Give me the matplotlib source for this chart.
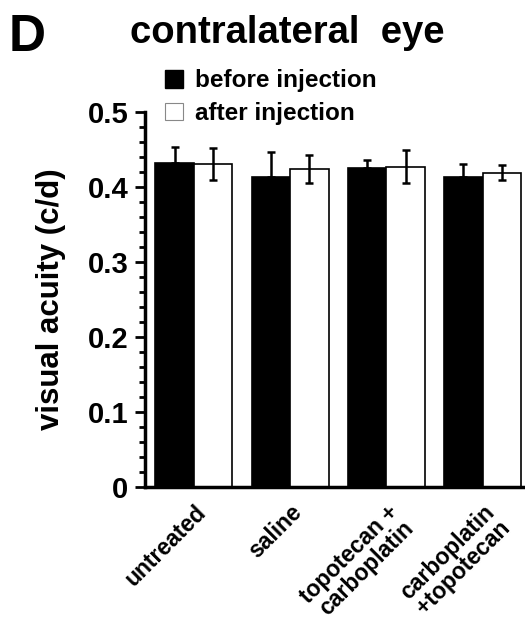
import numpy as np
import matplotlib.pyplot as plt
from matplotlib.patches import Patch
from matplotlib.ticker import MultipleLocator

plt.rcParams['font.family'] = ['Liberation Sans', 'DejaVu Sans']
plt.rcParams['font.weight'] = 'bold'

# visual acuity per group, mean and SEM
groups = ['untreated', 'saline', 'topotecan +\ncarboplatin', 'carboplatin\n+topotecan']
before = [0.432, 0.413, 0.425, 0.413]
before_err = [0.022, 0.034, 0.011, 0.018]
after = [0.431, 0.424, 0.427, 0.419]
after_err = [0.021, 0.019, 0.022, 0.010]

fig = plt.figure(figsize=(5.25, 6.26), dpi=100)
ax = fig.add_axes([0.276, 0.222, 0.724, 0.599])

x = np.arange(len(groups))
w = 0.4
err_kw = dict(ecolor='black', elinewidth=1.8, capsize=3, capthick=1.8)
ax.bar(x - w / 2, before, w, yerr=[np.zeros(4), before_err], color='black',
       edgecolor='black', linewidth=1.2, error_kw=err_kw)
ax.bar(x + w / 2, after, w, yerr=after_err, color='white',
       edgecolor='black', linewidth=1.2, error_kw=err_kw)

ax.set_xlim(-0.51, 3.44)
ax.set_ylim(0, 0.5)
ax.yaxis.set_major_locator(MultipleLocator(0.1))
ax.yaxis.set_minor_locator(MultipleLocator(0.02))
ax.set_yticks([0, 0.1, 0.2, 0.3, 0.4, 0.5])
ax.set_yticklabels(['0', '0.1', '0.2', '0.3', '0.4', '0.5'], fontsize=21, fontweight='bold')
ax.tick_params(axis='y', which='major', length=7, width=2, direction='out', pad=5)
ax.tick_params(axis='y', which='minor', length=4, width=2, direction='out')

ax.set_xticks(x)
ax.set_xticklabels(groups, rotation=45, ha='right', rotation_mode='anchor',
                   fontsize=16.5, fontweight='bold', linespacing=0.95)
ax.tick_params(axis='x', length=0, pad=10)

for s in ['top', 'right']:
    ax.spines[s].set_visible(False)
ax.spines['left'].set_linewidth(2.5)
ax.spines['bottom'].set_linewidth(2.5)

ax.set_ylabel('visual acuity (c/d)', fontsize=22.5, fontweight='bold')
ax.yaxis.set_label_coords(-0.208, 0.5)

handles = [Patch(facecolor='black', edgecolor='black'),
           Patch(facecolor='white', edgecolor='#888888', linewidth=0.8)]
fig.legend(handles, ['before injection', 'after injection'], loc='upper left',
           bbox_to_anchor=(0.295, 0.905), frameon=False, fontsize=17.5,
           handlelength=0.75, handleheight=0.75, handletextpad=0.5,
           labelspacing=0.4, borderaxespad=0)

fig.text(0.547, 0.947, 'contralateral  eye', ha='center', va='center',
         fontsize=27.5, fontweight='bold')
fig.text(0.052, 0.94, 'D', ha='center', va='center', fontsize=37, fontweight='bold')

fig.savefig('out.png', dpi=100)
